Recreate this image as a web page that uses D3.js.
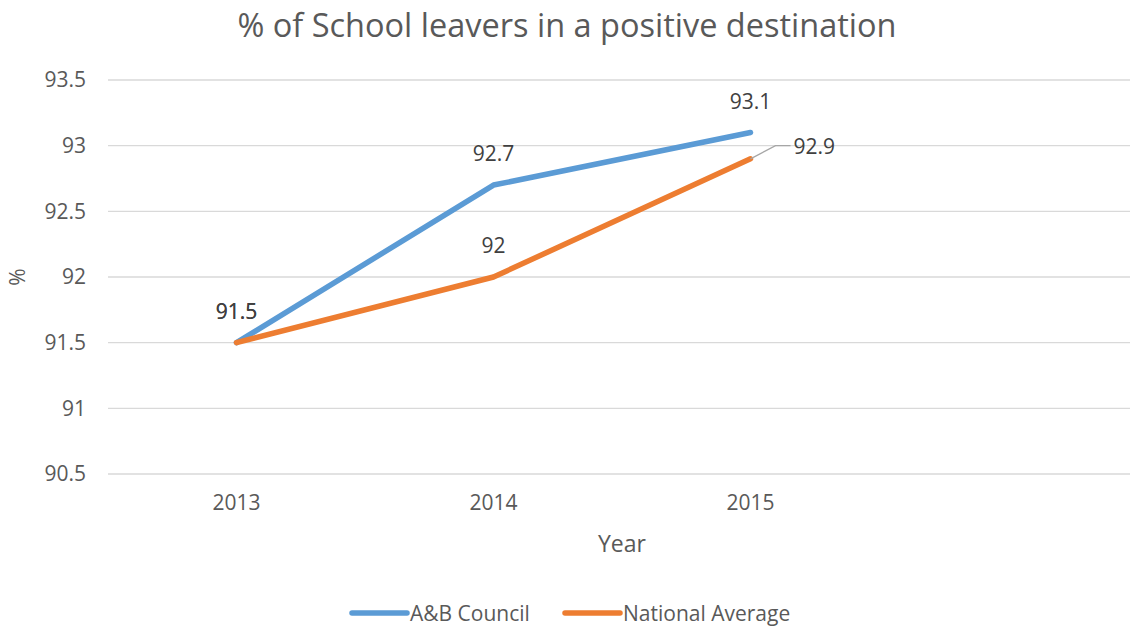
<!DOCTYPE html>
<html><head><meta charset="utf-8">
<script src="https://cdn.jsdelivr.net/npm/d3@7"></script>
<style>body{margin:0;background:#fff;} text{font-family:"Open Sans","Noto Sans",sans-serif;}</style>
</head><body><svg id="c" width="1130" height="626"></svg>
<script>
const categories = ["2013","2014","2015"];
const abCouncil = [91.5, 92.7, 93.1];
const nationalAverage = [91.5, 92.0, 92.9];
const yTicks = [90.5, 91, 91.5, 92, 92.5, 93, 93.5];
const seriesNames = ["A&B Council","National Average"];
const colors = ["#5B9BD5","#ED7D31"];

const svg = d3.select("#c");
const textColor = "#595959";
const plotLeft = 108, plotRight = 1136, plotTop = 80, plotBottom = 474;

const x = d3.scaleBand().domain([...categories, "_blank"]).range([plotLeft, plotRight]);
const y = d3.scaleLinear().domain([90.5, 93.5]).range([plotBottom, plotTop]);
const cx = c => x(c) + x.bandwidth()/2;

// title
svg.append("text").attr("x", 567).attr("y", 37).attr("text-anchor","middle")
  .attr("font-size", 32.5).attr("fill", textColor)
  .text("% of School leavers in a positive destination");

// gridlines
svg.append("g").selectAll("line").data(yTicks).join("line")
  .attr("x1", plotLeft).attr("x2", 1130)
  .attr("y1", d => y(d)).attr("y2", d => y(d))
  .attr("stroke", "#D9D9D9").attr("stroke-width", 1.3);

// y axis
const yAxis = svg.append("g").attr("transform", `translate(${plotLeft},0)`)
  .call(d3.axisLeft(y).tickValues(yTicks).tickSize(0).tickPadding(22).tickFormat(d3.format("~g")));
yAxis.select(".domain").remove();
yAxis.selectAll("text").attr("font-size", 21).attr("fill", textColor)
  .style("font-family", '"Open Sans","Noto Sans",sans-serif');

// x axis
const xAxis = svg.append("g").attr("transform", `translate(0,${plotBottom})`)
  .call(d3.axisBottom(x).tickSize(0).tickPadding(21).tickFormat(d => d === "_blank" ? "" : d));
xAxis.select(".domain").remove();
xAxis.selectAll("text").attr("font-size", 21).attr("fill", textColor)
  .style("font-family", '"Open Sans","Noto Sans",sans-serif');

// axis titles
svg.append("text").attr("transform", "translate(25,277) rotate(-90)").attr("text-anchor","middle")
  .attr("font-size", 21).attr("fill", textColor).text("%");
svg.append("text").attr("x", 622).attr("y", 552).attr("text-anchor","middle")
  .attr("font-size", 23).attr("fill", textColor).text("Year");

// lines
const line = d3.line().x((d,i) => cx(categories[i])).y(d => y(d));
[abCouncil, nationalAverage].forEach((s, k) => {
  svg.append("path").datum(s).attr("d", line).attr("fill","none")
    .attr("stroke", colors[k]).attr("stroke-width", 5.5)
    .attr("stroke-linecap","round").attr("stroke-linejoin","round");
});

// data labels
const lblColor = "#404040";
function label(xp, yp, t, anchor) {
  svg.append("text").attr("x", xp).attr("y", yp).attr("text-anchor", anchor || "middle")
    .attr("font-size", 21).attr("fill", lblColor).text(t);
}
abCouncil.forEach((v,i) => label(cx(categories[i]), y(v) - 24, d3.format("~g")(v)));
nationalAverage.forEach((v,i) => {
  if (i < 2) label(cx(categories[i]), y(v) - 24, d3.format("~g")(v));
});
// leader line for last orange label
const lx = cx(categories[2]), ly = y(nationalAverage[2]);
svg.append("path").attr("d", `M${lx},${ly} L${lx+25},${y(93)} L${lx+40},${y(93)}`)
  .attr("fill","none").attr("stroke","#A6A6A6").attr("stroke-width",1.3);
label(lx + 43, y(93) + 8, d3.format("~g")(nationalAverage[2]), "start");

// legend
const legend = svg.append("g");
const legX = [352, 565];
seriesNames.forEach((n,k) => {
  legend.append("line").attr("x1", legX[k]).attr("x2", legX[k]+55).attr("y1", 613).attr("y2", 613)
    .attr("stroke", colors[k]).attr("stroke-width", 5.5).attr("stroke-linecap","round");
  legend.append("text").attr("x", legX[k]+58).attr("y", 621).attr("font-size", 21)
    .attr("fill", textColor).text(n);
});
</script></body></html>
